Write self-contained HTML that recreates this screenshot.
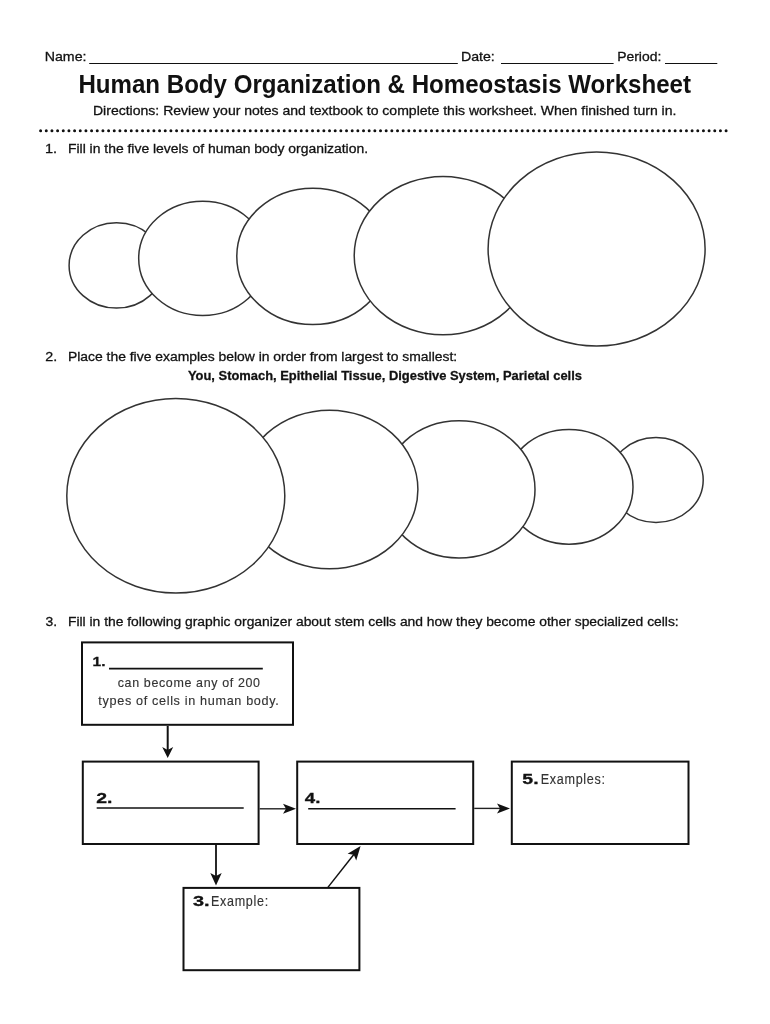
<!DOCTYPE html>
<html><head><meta charset="utf-8"><style>
html,body{margin:0;padding:0;background:#fff;width:770px;height:1024px;overflow:hidden}
svg{display:block}
text{font-family:"Liberation Sans",sans-serif}
.tx{will-change:transform}
.tx text{paint-order:stroke}
</style></head><body>
<svg width="770" height="1024" viewBox="0 0 770 1024">
<rect width="770" height="1024" fill="#fff"/>
<g fill="#fff" stroke="#333" stroke-width="1.5"><ellipse cx="116.5" cy="265.4" rx="47.4" ry="42.7"/>
<ellipse cx="202.7" cy="258.4" rx="64.0" ry="57.1"/>
<ellipse cx="312.8" cy="256.4" rx="76.0" ry="68.2"/>
<ellipse cx="443.0" cy="255.6" rx="88.8" ry="79.2"/>
<ellipse cx="596.6" cy="249.0" rx="108.5" ry="97.0"/>
<ellipse cx="656.0" cy="480.0" rx="47.2" ry="42.5"/>
<ellipse cx="569.0" cy="486.9" rx="64.0" ry="57.3"/>
<ellipse cx="459.0" cy="489.4" rx="76.0" ry="68.6"/>
<ellipse cx="329.5" cy="489.5" rx="88.4" ry="79.3"/>
<ellipse cx="175.8" cy="495.7" rx="109.0" ry="97.3"/></g>
<rect x="82.00" y="642.40" width="211.00" height="82.40" fill="#fff" stroke="#111" stroke-width="2.0"/><rect x="82.80" y="761.60" width="175.80" height="82.40" fill="#fff" stroke="#111" stroke-width="2.0"/><rect x="297.20" y="761.60" width="176.00" height="82.40" fill="#fff" stroke="#111" stroke-width="2.0"/><rect x="511.80" y="761.60" width="176.70" height="82.40" fill="#fff" stroke="#111" stroke-width="2.0"/><rect x="183.50" y="887.90" width="175.90" height="82.30" fill="#fff" stroke="#111" stroke-width="2.0"/>
<line x1="89.2" y1="63.5" x2="457.8" y2="63.5" stroke="#111" stroke-width="1.2"/><line x1="501.0" y1="63.5" x2="613.6" y2="63.5" stroke="#111" stroke-width="1.2"/><line x1="665.0" y1="63.5" x2="717.3" y2="63.5" stroke="#111" stroke-width="1.2"/>
<line x1="40.6" y1="130.7" x2="726.2" y2="130.7" stroke="#111" stroke-width="3" stroke-linecap="round" stroke-dasharray="0 5.6653"/>
<line x1="109.0" y1="668.6" x2="262.8" y2="668.6" stroke="#111" stroke-width="1.6"/><line x1="96.7" y1="808.0" x2="243.7" y2="808.0" stroke="#111" stroke-width="1.6"/><line x1="308.2" y1="808.8" x2="455.6" y2="808.8" stroke="#111" stroke-width="1.6"/>
<line x1="167.7" y1="726" x2="167.7" y2="750" stroke="#111" stroke-width="2"/><path d="M167.70 758.00 L162.20 747.00 L167.70 750.00 L173.20 747.00 Z" fill="#111"/><line x1="259.6" y1="808.8" x2="288" y2="808.8" stroke="#222" stroke-width="1.4"/><path d="M296.00 808.80 L283.00 813.80 L286.00 808.80 L283.00 803.80 Z" fill="#111"/><line x1="474.2" y1="808.4" x2="502" y2="808.4" stroke="#222" stroke-width="1.4"/><path d="M510.00 808.60 L497.00 813.60 L500.00 808.60 L497.00 803.60 Z" fill="#111"/><line x1="216" y1="844.6" x2="216" y2="878" stroke="#111" stroke-width="1.8"/><path d="M216.00 885.60 L210.30 873.10 L216.00 876.10 L221.70 873.10 Z" fill="#111"/><line x1="327.9" y1="887.4" x2="355" y2="853" stroke="#111" stroke-width="1.5"/><path d="M360.60 846.10 L356.22 860.49 L353.77 854.72 L347.60 853.66 Z" fill="#111"/>
<g class="tx"><text transform="translate(44.75 61.30) scale(1.0507 1)" font-size="13.50" font-weight="normal" fill="#111" stroke="#111" stroke-width="0.30" letter-spacing="0.00">Name:</text>
<text transform="translate(460.95 61.30) scale(1.0500 1)" font-size="13.50" font-weight="normal" fill="#111" stroke="#111" stroke-width="0.30" letter-spacing="0.00">Date:</text>
<text transform="translate(617.17 61.30) scale(1.0321 1)" font-size="13.50" font-weight="normal" fill="#111" stroke="#111" stroke-width="0.30" letter-spacing="0.00">Period:</text>
<text transform="translate(78.45 92.50) scale(0.9449 1)" font-size="25.50" font-weight="bold" fill="#111" stroke="#111" stroke-width="0.00" letter-spacing="0.00">Human Body Organization &amp; Homeostasis Worksheet</text>
<text transform="translate(92.96 114.70) scale(1.0401 1)" font-size="13.50" font-weight="normal" fill="#111" stroke="#111" stroke-width="0.30" letter-spacing="0.00">Directions: Review your notes and textbook to complete this worksheet. When finished turn in.</text>
<text transform="translate(45.02 153.10) scale(1.0778 1)" font-size="13.50" font-weight="normal" fill="#111" stroke="#111" stroke-width="0.30" letter-spacing="0.00">1.</text>
<text transform="translate(67.97 153.10) scale(1.0311 1)" font-size="13.50" font-weight="normal" fill="#111" stroke="#111" stroke-width="0.30" letter-spacing="0.00">Fill in the five levels of human body organization.</text>
<text transform="translate(45.21 361.10) scale(1.0595 1)" font-size="13.50" font-weight="normal" fill="#111" stroke="#111" stroke-width="0.30" letter-spacing="0.00">2.</text>
<text transform="translate(67.97 361.10) scale(1.0306 1)" font-size="13.50" font-weight="normal" fill="#111" stroke="#111" stroke-width="0.30" letter-spacing="0.00">Place the five examples below in order from largest to smallest:</text>
<text transform="translate(187.96 379.80) scale(0.9497 1)" font-size="13.60" font-weight="bold" fill="#111" stroke="#111" stroke-width="0.30" letter-spacing="0.00">You, Stomach, Epithelial Tissue, Digestive System, Parietal cells</text>
<text transform="translate(45.48 626.30) scale(1.0316 1)" font-size="13.50" font-weight="normal" fill="#111" stroke="#111" stroke-width="0.30" letter-spacing="0.00">3.</text>
<text transform="translate(67.97 626.30) scale(1.0274 1)" font-size="13.50" font-weight="normal" fill="#111" stroke="#111" stroke-width="0.30" letter-spacing="0.00">Fill in the following graphic organizer about stem cells and how they become other specialized cells:</text>
<text transform="translate(92.54 665.80) scale(1.1474 1)" font-size="13.50" font-weight="bold" fill="#111" stroke="#111" stroke-width="0.30" letter-spacing="0.00">1.</text>
<text transform="translate(117.74 687.40) scale(0.9167 1)" font-size="13.60" font-weight="normal" fill="#333" stroke="#333" stroke-width="0.15" letter-spacing="0.70">can become any of 200</text>
<text transform="translate(98.37 704.50) scale(0.9309 1)" font-size="13.60" font-weight="normal" fill="#333" stroke="#333" stroke-width="0.15" letter-spacing="0.70">types of cells in human body.</text>
<text transform="translate(96.31 803.30) scale(1.3854 1)" font-size="14.00" font-weight="bold" fill="#111" stroke="#111" stroke-width="0.30" letter-spacing="0.00">2.</text>
<text transform="translate(304.77 803.30) scale(1.3333 1)" font-size="14.00" font-weight="bold" fill="#111" stroke="#111" stroke-width="0.30" letter-spacing="0.00">4.</text>
<text transform="translate(522.32 783.50) scale(1.3619 1)" font-size="14.30" font-weight="bold" fill="#111" stroke="#111" stroke-width="0.30" letter-spacing="0.00">5.</text>
<text transform="translate(540.75 783.80) scale(0.8407 1)" font-size="15.00" font-weight="normal" fill="#333" stroke="#333" stroke-width="0.15" letter-spacing="0.80">Examples:</text>
<text transform="translate(192.94 905.80) scale(1.4439 1)" font-size="13.80" font-weight="bold" fill="#111" stroke="#111" stroke-width="0.30" letter-spacing="0.00">3.</text>
<text transform="translate(211.00 905.80) scale(0.8835 1)" font-size="14.20" font-weight="normal" fill="#333" stroke="#333" stroke-width="0.15" letter-spacing="0.80">Example:</text></g>
</svg>
</body></html>
